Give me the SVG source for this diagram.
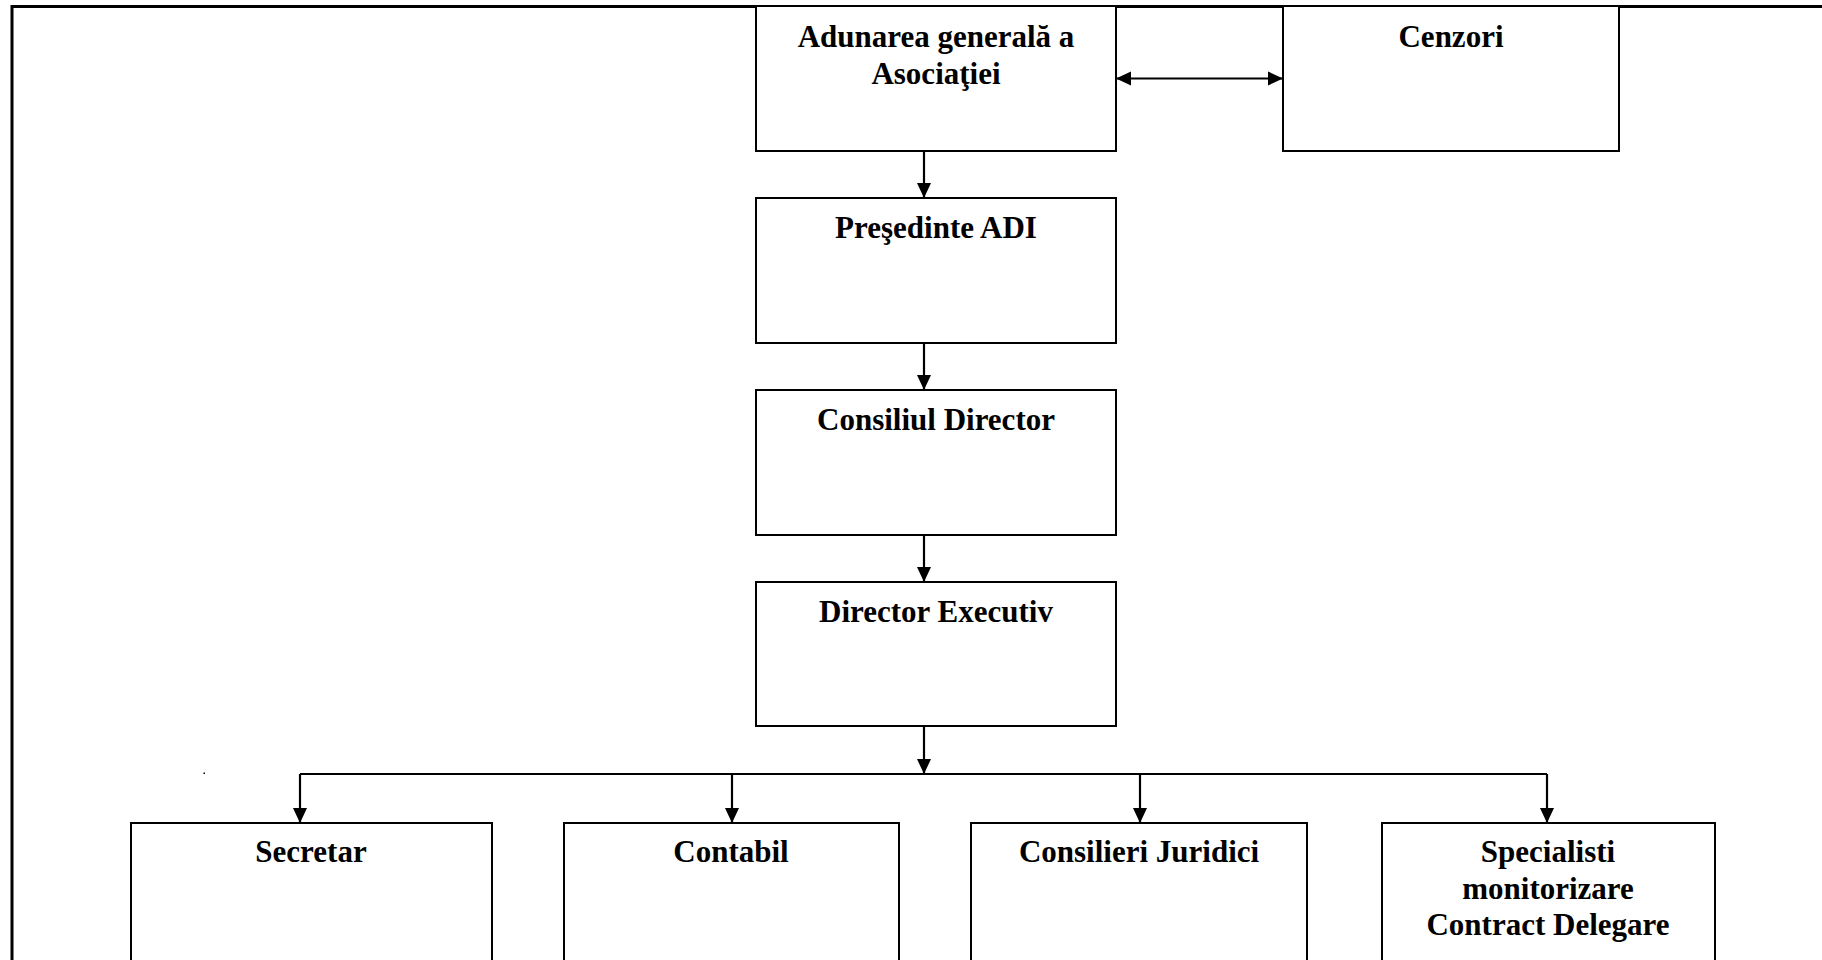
<svg xmlns="http://www.w3.org/2000/svg" width="1822" height="960" viewBox="0 0 1822 960">
<defs>
<style>
.box{fill:#fff;stroke:#000;stroke-width:2}
.t{font-family:"Liberation Serif","Times New Roman",serif;font-weight:bold;font-size:31px;fill:#000;text-anchor:middle}
.c{stroke:#000;stroke-width:2.2;fill:none}
</style>
<marker id="ah" markerUnits="userSpaceOnUse" markerWidth="16" markerHeight="16" viewBox="0 0 16 16" refX="15" refY="8" orient="auto-start-reverse">
<path d="M0,1 L15,8 L0,15 Z" fill="#000"/>
</marker>
</defs>
<rect width="1822" height="960" fill="#fff"/>
<path d="M12,962 V6.5 H1824" fill="none" stroke="#000" stroke-width="3"/>
<g id="n-adunarea"><rect class="box" x="756" y="6" width="360" height="145"/><text class="t" x="936" y="47">Adunarea generală a</text><text class="t" x="936" y="84">Asociaţiei</text></g>
<g id="n-cenzori"><rect class="box" x="1283" y="6" width="336" height="145"/><text class="t" x="1451" y="47">Cenzori</text></g>
<g id="n-presedinte"><rect class="box" x="756" y="198" width="360" height="145"/><text class="t" x="936" y="238">Preşedinte ADI</text></g>
<g id="n-consiliul"><rect class="box" x="756" y="390" width="360" height="145"/><text class="t" x="936" y="430">Consiliul Director</text></g>
<g id="n-director"><rect class="box" x="756" y="582" width="360" height="144"/><text class="t" x="936" y="622">Director Executiv</text></g>
<g id="n-secretar"><rect class="box" x="131" y="823" width="361" height="150"/><text class="t" x="311" y="862">Secretar</text></g>
<g id="n-contabil"><rect class="box" x="564" y="823" width="335" height="150"/><text class="t" x="731" y="862">Contabil</text></g>
<g id="n-consilieri"><rect class="box" x="971" y="823" width="336" height="150"/><text class="t" x="1139" y="862">Consilieri Juridici</text></g>
<g id="n-specialisti"><rect class="box" x="1382" y="823" width="333" height="150"/><text class="t" x="1548" y="862">Specialisti</text><text class="t" x="1548" y="899">monitorizare</text><text class="t" x="1548" y="935">Contract Delegare</text></g>
<g id="connectors">
<line class="c" x1="1116" y1="78.5" x2="1283" y2="78.5" marker-start="url(#ah)" marker-end="url(#ah)"/>
<line class="c" x1="924" y1="151" x2="924" y2="198" marker-end="url(#ah)"/>
<line class="c" x1="924" y1="343" x2="924" y2="390" marker-end="url(#ah)"/>
<line class="c" x1="924" y1="535" x2="924" y2="582" marker-end="url(#ah)"/>
<line class="c" x1="924" y1="726" x2="924" y2="774" marker-end="url(#ah)"/>
<line class="c" x1="300" y1="774" x2="1547" y2="774"/>
<line class="c" x1="300" y1="774" x2="300" y2="823" marker-end="url(#ah)"/>
<line class="c" x1="732" y1="774" x2="732" y2="823" marker-end="url(#ah)"/>
<line class="c" x1="1140" y1="774" x2="1140" y2="823" marker-end="url(#ah)"/>
<line class="c" x1="1547" y1="774" x2="1547" y2="823" marker-end="url(#ah)"/>
</g>
<rect x="203.5" y="772.5" width="1.5" height="1.5" fill="#000"/>
</svg>
